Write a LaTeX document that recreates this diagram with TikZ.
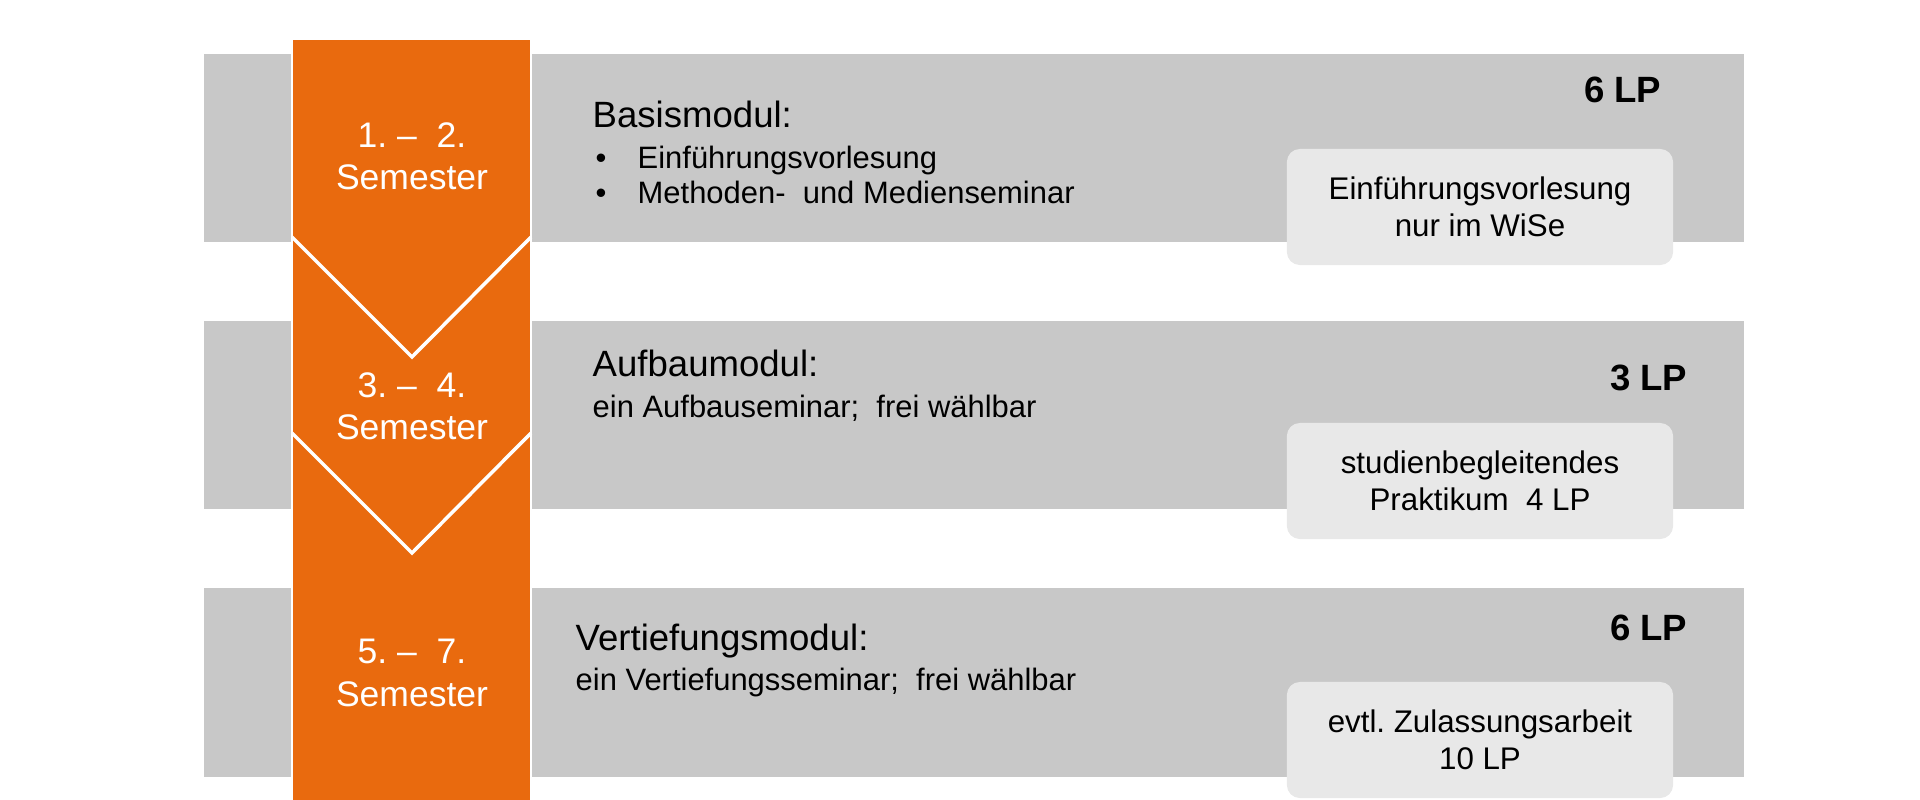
\documentclass[tikz,border=0pt]{standalone}
\usepackage{fontspec}
\setmainfont{Liberation Sans}
\usetikzlibrary{positioning}
\frenchspacing

\definecolor{semorange}{RGB}{233,106,14}
\definecolor{bandgrey}{RGB}{200,200,200}
\definecolor{boxgrey}{RGB}{232,232,232}

\begin{document}
\begin{tikzpicture}[
            x=0.01cm, y=-0.01cm,
            every node/.style={inner sep=0pt},
            band/.style={fill=bandgrey},
            semester/.style={text=white, align=center, font=\fontsize{10.1}{12}\selectfont},
            head/.style={anchor=base west, font=\fontsize{10.4}{12}\selectfont},
            sub/.style={anchor=base west, font=\fontsize{8.8}{10}\selectfont},
            lp/.style={anchor=base east, font=\bfseries\fontsize{10.4}{12}\selectfont},
            infobox/.style={fill=boxgrey, rounded corners=0.13cm, minimum width=3.86cm, minimum height=1.16cm, align=center, font=\fontsize{8.9}{10.5}\selectfont},
            chevron/.style={white, line width=1pt}
        ]
        \useasboundingbox (0,0) rectangle (1920,800);

        % grey bands
        \fill [band] (204,54) rectangle (1744,242);
        \fill [band] (204,321) rectangle (1744,509);
        \fill [band] (204,588) rectangle (1744,777);

        % orange semester column
        \filldraw [fill=semorange, draw=white, line width=0.4pt] (292,39) rectangle (531,802);
        \draw [chevron] (292,237) -- (412,357) -- (531,237);
        \draw [chevron] (292,433) -- (412,553) -- (531,433);

        \node (sem1) [semester] at (412,156) {1. – \ 2.\\Semester};
        \node (sem2) [semester] at (412,406) {3. – \ 4.\\Semester};
        \node (sem3) [semester] at (412,673) {5. – \ 7.\\Semester};

        % modules
        \node (basis) [head] at (592,127) {Basismodul:};
        \node (basisA) [sub] at (595,168) {\makebox[0.42cm][l]{•}Einführungsvorlesung};
        \node (basisB) [sub] at (595,203) {\makebox[0.42cm][l]{•}Methoden- \ und Medienseminar};

        \node (aufbau) [head] at (592,376) {Aufbaumodul:};
        \node (aufbauA) [sub] at (592,417) {ein Aufbauseminar; \ frei wählbar};

        \node (vertief) [head] at (575,650) {Vertiefungsmodul:};
        \node (vertiefA) [sub] at (575,690) {ein Vertiefungsseminar; \ frei wählbar};

        % credit points
        \node (lp1) [lp] at (1662,103) {6 LP};
        \node (lp2) [lp] at (1688,390) {3 LP};
        \node (lp3) [lp] at (1688,640) {6 LP};

        % notes
        \node (info1) [infobox] at (1480,207) {Einführungsvorlesung\\nur im WiSe};
        \node (info2) [infobox] at (1480,481) {studienbegleitendes\\Praktikum \ 4 LP};
        \node (info3) [infobox] at (1480,740) {evtl. Zulassungsarbeit\\10 LP};
\end{tikzpicture}
\end{document}
